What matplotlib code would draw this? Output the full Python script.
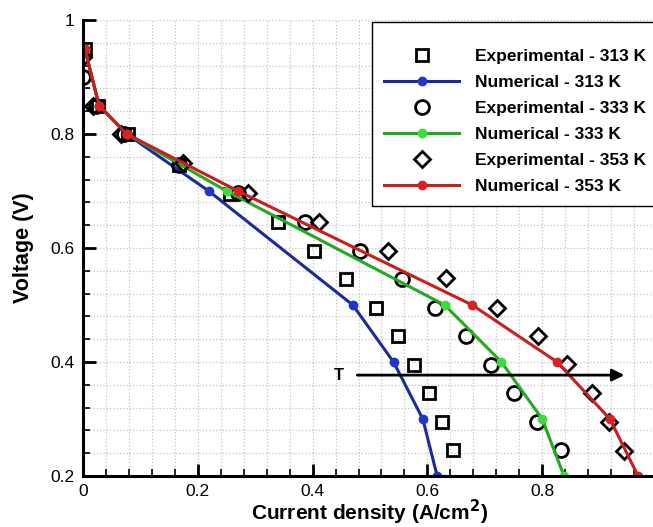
import matplotlib
matplotlib.use("Agg")
import matplotlib.pyplot as plt
from matplotlib.ticker import MultipleLocator, FuncFormatter

plt.rcParams['font.family'] = ['Liberation Sans', 'DejaVu Sans']

# Experimental data
exp313_x = [0.003, 0.027, 0.078, 0.167, 0.256, 0.339, 0.403, 0.459, 0.510, 0.548, 0.576, 0.603, 0.626, 0.644]
exp313_y = [0.950, 0.850, 0.800, 0.745, 0.695, 0.645, 0.595, 0.545, 0.495, 0.445, 0.395, 0.345, 0.295, 0.245]
exp333_x = [0.000, 0.022, 0.072, 0.167, 0.270, 0.386, 0.482, 0.555, 0.614, 0.668, 0.711, 0.751, 0.791, 0.833]
exp333_y = [0.900, 0.850, 0.800, 0.745, 0.697, 0.645, 0.595, 0.545, 0.495, 0.445, 0.395, 0.345, 0.295, 0.245]
exp353_x = [0.000, 0.018, 0.066, 0.174, 0.287, 0.412, 0.532, 0.633, 0.722, 0.793, 0.844, 0.887, 0.917, 0.943]
exp353_y = [0.935, 0.850, 0.800, 0.749, 0.697, 0.646, 0.595, 0.547, 0.495, 0.446, 0.396, 0.346, 0.294, 0.243]

# Numerical data
num313_x = [0.003, 0.028, 0.076, 0.219, 0.470, 0.541, 0.592, 0.617]
num313_y = [0.950, 0.850, 0.800, 0.700, 0.500, 0.400, 0.300, 0.200]
num333_x = [0.003, 0.028, 0.076, 0.250, 0.630, 0.729, 0.800, 0.838]
num333_y = [0.950, 0.850, 0.800, 0.700, 0.500, 0.400, 0.300, 0.200]
num353_x = [0.003, 0.028, 0.076, 0.270, 0.678, 0.826, 0.918, 0.967]
num353_y = [0.950, 0.850, 0.800, 0.700, 0.500, 0.400, 0.300, 0.200]

labels = ['Experimental - 313 K', 'Numerical - 313 K',
          'Experimental - 333 K', 'Numerical - 333 K',
          'Experimental - 353 K', 'Numerical - 353 K']

fig = plt.figure(figsize=(6.53, 5.27), dpi=100)
ax = fig.add_axes([83/653, 1-476/527, 574/653, 456/527])

exp_kw = dict(linestyle='none', markerfacecolor='none', markeredgecolor='black',
              markeredgewidth=2.0)
num_kw = dict(linewidth=2.2, marker='o', markersize=6)

h1, = ax.plot(exp313_x, exp313_y, marker='s', markersize=9, label=labels[0], **exp_kw)
h2, = ax.plot(num313_x, num313_y, color='#1c2a9c', markerfacecolor='#2335c8',
              markeredgecolor='#2335c8', label=labels[1], **num_kw)
h3, = ax.plot(exp333_x, exp333_y, marker='o', markersize=10, label=labels[2], **exp_kw)
h4, = ax.plot(num333_x, num333_y, color='#22aa22', markerfacecolor='#3ddc3d',
              markeredgecolor='#3ddc3d', label=labels[3], **num_kw)
h5, = ax.plot(exp353_x, exp353_y, marker='D', markersize=8, label=labels[4], **exp_kw)
h6, = ax.plot(num353_x, num353_y, color='#c81e1e', markerfacecolor='#dd2020',
              markeredgecolor='#dd2020', label=labels[5], **num_kw)

ax.set_xlim(0, 1)
ax.set_ylim(0.2, 1)
ax.xaxis.set_major_locator(MultipleLocator(0.2))
ax.xaxis.set_minor_locator(MultipleLocator(0.04))
ax.yaxis.set_major_locator(MultipleLocator(0.2))
ax.yaxis.set_minor_locator(MultipleLocator(0.04))
fmt = FuncFormatter(lambda v, p: '%g' % round(v, 3))
ax.xaxis.set_major_formatter(fmt)
ax.yaxis.set_major_formatter(fmt)

ax.grid(True, which='both', color='#c4c4c4', linestyle=':', linewidth=0.9)
ax.set_axisbelow(True)
for s in ['top', 'right']:
    ax.spines[s].set_visible(False)
for s in ['left', 'bottom']:
    ax.spines[s].set_linewidth(2.2)

ax.tick_params(which='major', direction='in', length=9, width=2, labelsize=12.5, pad=6)
ax.tick_params(which='minor', direction='in', length=5, width=1.2)

ax.set_xlabel('Current density (A/cm$^\\mathbf{2}$)', fontsize=15, fontweight='bold', labelpad=-1)
ax.set_ylabel('Voltage (V)', fontsize=15.5, fontweight='bold', labelpad=12)

# Temperature arrow
ax.annotate('', xy=(0.948, 0.377), xytext=(0.473, 0.377),
            arrowprops=dict(arrowstyle='-|>', color='black', lw=2, mutation_scale=18))
ax.text(0.455, 0.377, 'T', fontsize=12, fontweight='bold', ha='right', va='center')

leg = ax.legend(handles=[h1, h2, h3, h4, h5, h6], loc='upper left',
                bbox_to_anchor=(0.503, 0.996), frameon=True, fancybox=False,
                edgecolor='black', framealpha=1,
                prop=dict(weight='bold', size=12.5), handlelength=4.3,
                handletextpad=0.95, labelspacing=0.62, borderpad=0.72,
                borderaxespad=0, numpoints=1, title=' ', title_fontsize=2)
leg.get_frame().set_linewidth(1.0)
leg.set_zorder(10)

fig.savefig('out.png', dpi=100)
